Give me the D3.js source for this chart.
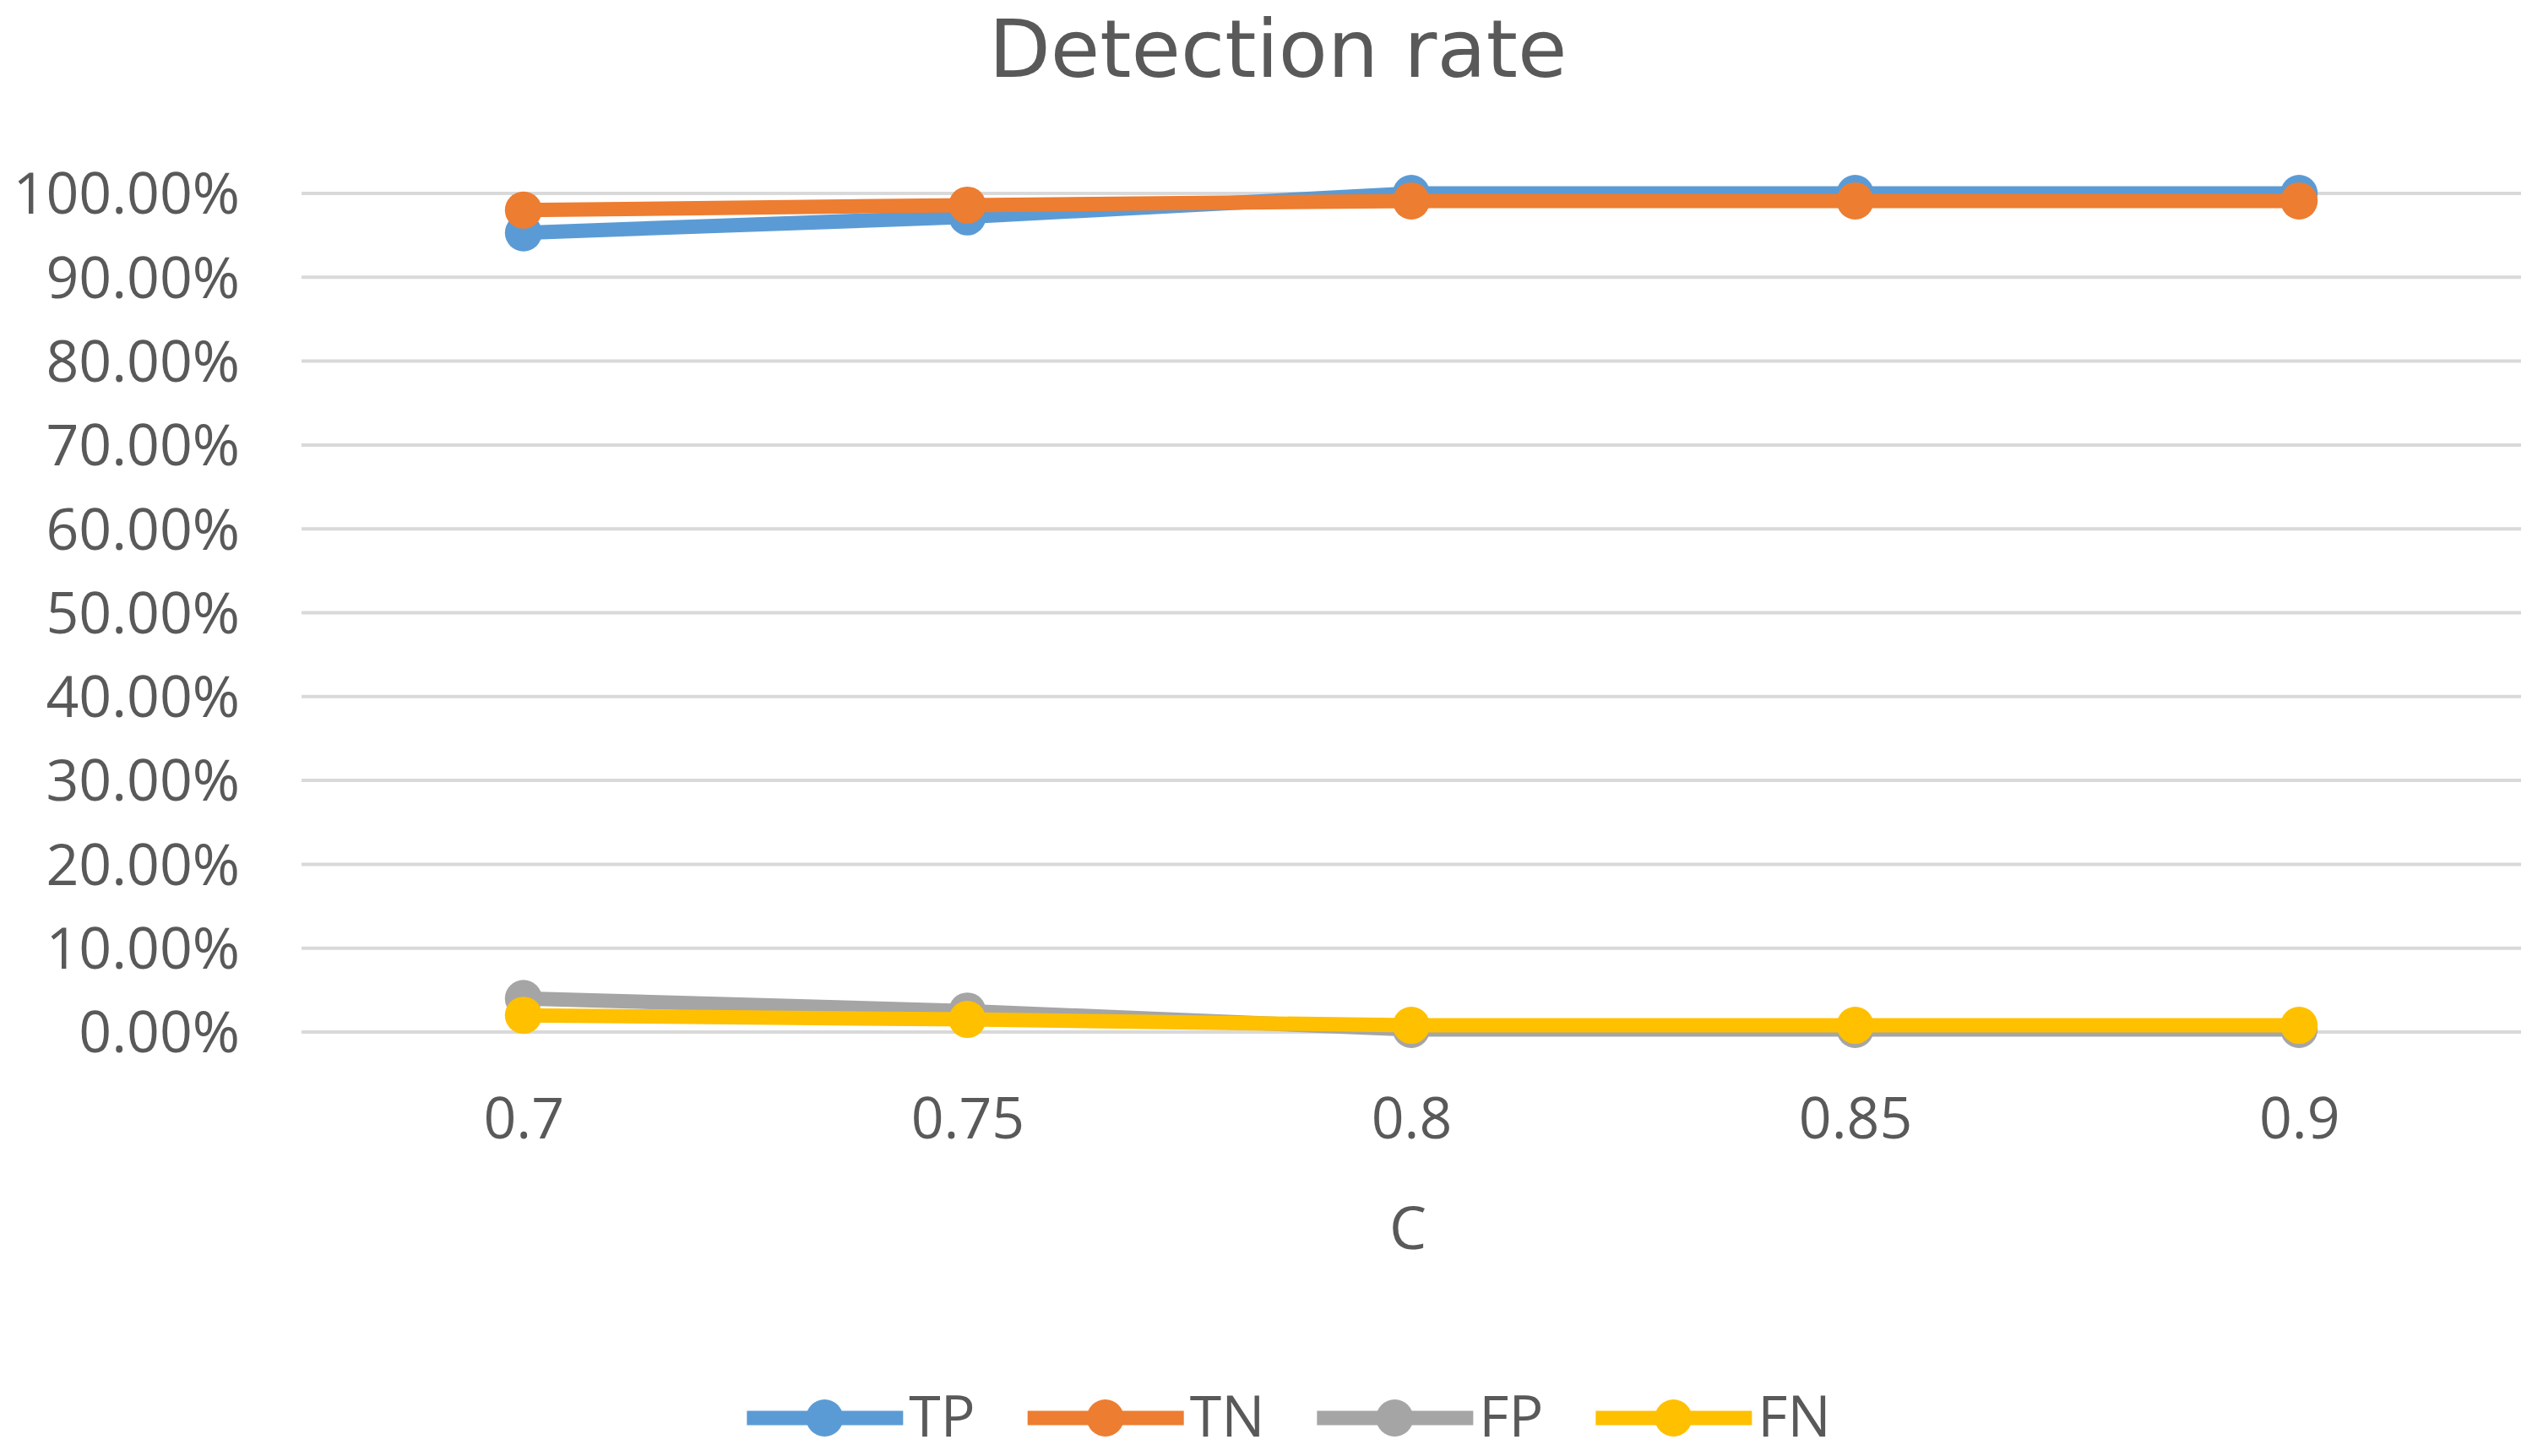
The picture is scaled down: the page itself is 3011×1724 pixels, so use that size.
<!DOCTYPE html>
<html>
<head>
<meta charset="utf-8">
<script src="https://cdn.jsdelivr.net/npm/d3@7"></script>
<style>
  html, body { margin: 0; padding: 0; background: #fff; }
  svg { display: block; }
  text { fill: #595959; }
  .os { font-family: "Open Sans", "Noto Sans", sans-serif; }
</style>
</head>
<body>
<svg id="chart" width="3011" height="1724"></svg>
<script>
// ---- data ----
const categories = ["0.7", "0.75", "0.8", "0.85", "0.9"];
const seriesNames = ["TP", "TN", "FP", "FN"];
const tpValues = [0.953, 0.972, 1.000, 1.000, 1.000];
const tnValues = [0.980, 0.986, 0.991, 0.991, 0.991];
const fpValues = [0.040, 0.025, 0.003, 0.003, 0.003];
const fnValues = [0.020, 0.015, 0.008, 0.008, 0.008];
const yTickValues = [0, 0.1, 0.2, 0.3, 0.4, 0.5, 0.6, 0.7, 0.8, 0.9, 1.0];
const colors = ["#5B9BD5", "#ED7D31", "#A5A5A5", "#FFC000"];
const titleText = "Detection rate";
const xTitle = "C";

const series = [tpValues, tnValues, fpValues, fnValues].map((v, i) => ({
  name: seriesNames[i], color: colors[i], values: v
}));

const svg = d3.select("#chart");
const plotLeft = 357, plotRight = 2985, plotTop = 229, plotBottom = 1222;

const x = d3.scalePoint().domain(categories).range([plotLeft, plotRight]).padding(0.5);
const y = d3.scaleLinear().domain([0, 1]).range([plotBottom, plotTop]);

// gridlines
svg.append("g").selectAll("line").data(yTickValues).join("line")
  .attr("x1", plotLeft).attr("x2", plotRight)
  .attr("y1", d => y(d)).attr("y2", d => y(d))
  .attr("stroke", "#D9D9D9").attr("stroke-width", 4);

// y axis labels
const yAxis = d3.axisLeft(y).tickValues(yTickValues).tickFormat(d3.format(".2%")).tickSize(0).tickPadding(0);
const yg = svg.append("g").attr("transform", `translate(284,0)`).call(yAxis);
yg.select(".domain").remove();
yg.selectAll("text").attr("class", "os").attr("font-size", 68).attr("fill", "#595959")
  .attr("dy", "0.35em");

// x axis labels
const xAxis = d3.axisBottom(x).tickSize(0).tickPadding(0);
const xg = svg.append("g").attr("transform", `translate(0,1348)`).call(xAxis);
xg.select(".domain").remove();
xg.selectAll("text").attr("class", "os").attr("font-size", 68).attr("fill", "#595959")
  .attr("dy", 0);

// series
const line = d3.line().x((d, i) => x(categories[i])).y(d => y(d));
series.forEach(s => {
  const g = svg.append("g");
  g.append("path").attr("d", line(s.values)).attr("fill", "none")
    .attr("stroke", s.color).attr("stroke-width", 17).attr("stroke-linejoin", "round");
  g.selectAll("circle").data(s.values).join("circle")
    .attr("cx", (d, i) => x(categories[i])).attr("cy", d => y(d))
    .attr("r", 22).attr("fill", s.color);
});

// title
svg.append("text").attr("x", 1513).attr("y", 91).attr("text-anchor", "middle")
  .style("font-family", '"DejaVu Sans", sans-serif')
  .attr("font-size", 95).text(titleText);

// x axis title
svg.append("text").attr("class", "os").attr("x", 1667).attr("y", 1479).attr("text-anchor", "middle")
  .attr("font-size", 70).text(xTitle);

// legend
const legend = svg.append("g");
const ly = 1679;
let cx = 0;
series.forEach(s => {
  const g = legend.append("g");
  g.append("line").attr("x1", cx).attr("x2", cx + 185).attr("y1", ly).attr("y2", ly)
    .attr("stroke", s.color).attr("stroke-width", 17);
  g.append("circle").attr("cx", cx + 92).attr("cy", ly).attr("r", 22).attr("fill", s.color);
  const t = g.append("text").attr("class", "os").attr("x", cx + 192).attr("y", 1701)
    .attr("font-size", 68).text(s.name);
  const w = t.node().getComputedTextLength();
  cx += 192 + w + 62;
});
const total = cx - 62;
legend.attr("transform", `translate(${1526 - total / 2},0)`);
</script>
</body>
</html>
